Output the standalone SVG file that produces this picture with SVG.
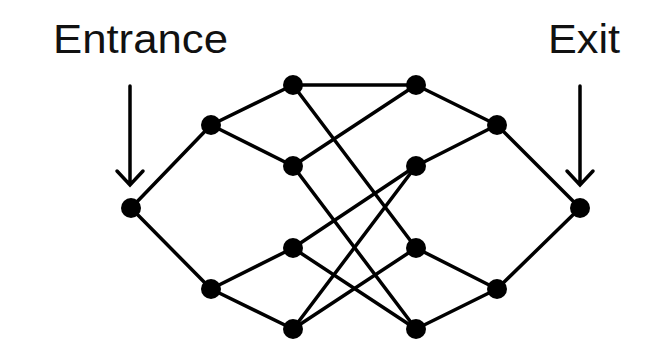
<svg xmlns="http://www.w3.org/2000/svg" width="660" height="359" viewBox="0 0 660 359">
<style>
.e{stroke:#000;stroke-width:3.5;fill:none;stroke-linecap:round}
.n{fill:#000}
.t{font-family:"Liberation Sans",Arial,sans-serif;font-size:40px;fill:#111}
</style>
<rect width="660" height="359" fill="#fff"/>
<g id="labels">
<text class="t" x="53" y="53" textLength="175" lengthAdjust="spacingAndGlyphs">Entrance</text>
<text class="t" x="548" y="53" textLength="72" lengthAdjust="spacingAndGlyphs">Exit</text>
</g>
<g id="connectors" class="e">
<path d="M130 86V184M117 171L130 185L143 171"/>
<path d="M580 86V184M567 171L580 185L593 171"/>
<line x1="131" y1="208" x2="211" y2="125"/>
<line x1="131" y1="208" x2="211" y2="289"/>
<line x1="211" y1="125" x2="293" y2="85"/>
<line x1="211" y1="125" x2="293" y2="166"/>
<line x1="211" y1="289" x2="293" y2="248"/>
<line x1="211" y1="289" x2="293" y2="329"/>
<line x1="293" y1="85" x2="416" y2="85"/>
<line x1="293" y1="85" x2="416" y2="248"/>
<line x1="293" y1="166" x2="416" y2="85"/>
<line x1="293" y1="166" x2="416" y2="329"/>
<line x1="293" y1="248" x2="416" y2="166"/>
<line x1="293" y1="248" x2="416" y2="329"/>
<line x1="293" y1="329" x2="416" y2="166"/>
<line x1="293" y1="329" x2="416" y2="248"/>
<line x1="416" y1="85" x2="497" y2="125"/>
<line x1="416" y1="166" x2="497" y2="125"/>
<line x1="416" y1="248" x2="497" y2="289"/>
<line x1="416" y1="329" x2="497" y2="289"/>
<line x1="497" y1="125" x2="580" y2="208"/>
<line x1="497" y1="289" x2="580" y2="208"/>
</g>
<g id="n-entrance"><circle class="n" cx="131" cy="208" r="10"/></g>
<g id="n-l1"><circle class="n" cx="211" cy="125" r="10"/></g>
<g id="n-l2"><circle class="n" cx="211" cy="289" r="10"/></g>
<g id="n-a1"><circle class="n" cx="293" cy="85" r="10"/></g>
<g id="n-a2"><circle class="n" cx="293" cy="166" r="10"/></g>
<g id="n-a3"><circle class="n" cx="293" cy="248" r="10"/></g>
<g id="n-a4"><circle class="n" cx="293" cy="329" r="10"/></g>
<g id="n-b1"><circle class="n" cx="416" cy="85" r="10"/></g>
<g id="n-b2"><circle class="n" cx="416" cy="166" r="10"/></g>
<g id="n-b3"><circle class="n" cx="416" cy="248" r="10"/></g>
<g id="n-b4"><circle class="n" cx="416" cy="329" r="10"/></g>
<g id="n-r1"><circle class="n" cx="497" cy="125" r="10"/></g>
<g id="n-r2"><circle class="n" cx="497" cy="289" r="10"/></g>
<g id="n-exit"><circle class="n" cx="580" cy="208" r="10"/></g>
</svg>
